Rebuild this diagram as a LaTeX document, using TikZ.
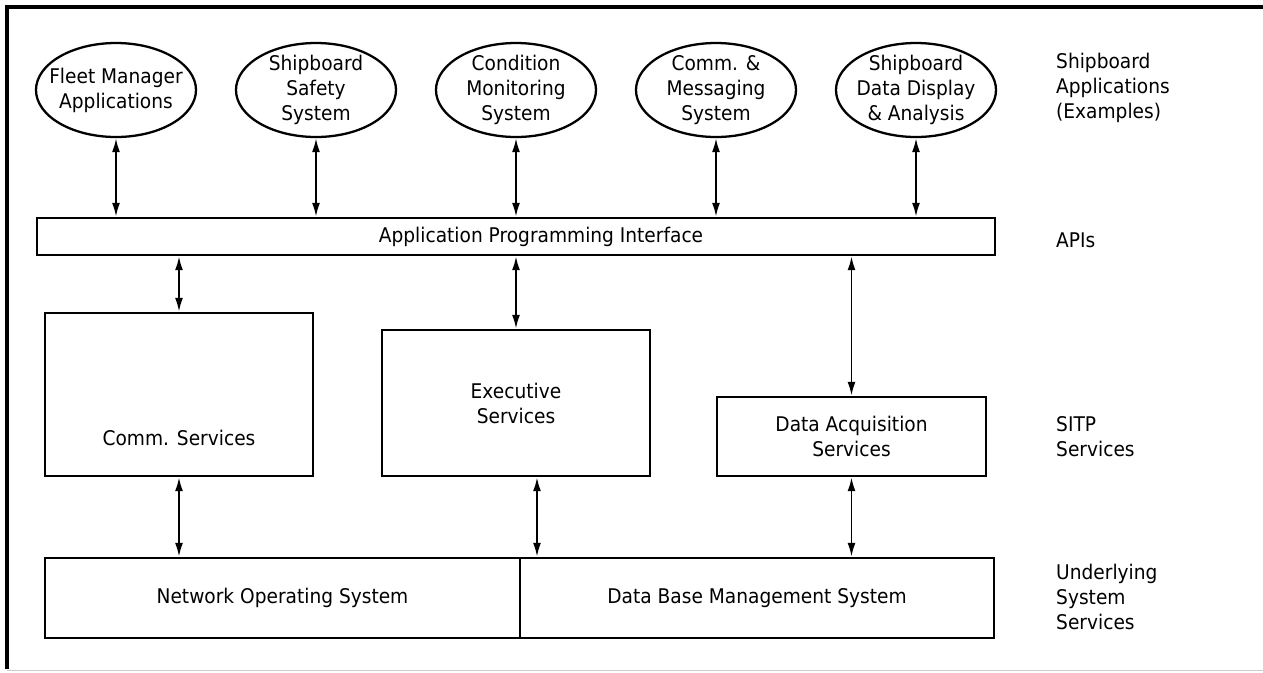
\documentclass[tikz,border=0pt]{standalone}
\usepackage{fontspec}
\setmainfont[FakeStretch=0.92]{DejaVu Sans}
\usepackage{tikz}
\usetikzlibrary{shapes,arrows,arrows.meta,calc}
\tikzstyle{app} = [ellipse, draw, line width=1.3pt, minimum width=3.2cm, minimum height=1.88cm, inner xsep=-0.25cm, inner ysep=-0.1cm, align=center, node distance=4cm]
\tikzstyle{blok} = [rectangle, draw, line width=1.4pt, align=center, inner sep=0pt]
\tikzstyle{lapis} = [anchor=west, align=left]
\tikzstyle{line} = [draw, line width=1.1pt, {Latex[length=0.28cm,width=0.16cm]}-{Latex[length=0.28cm,width=0.16cm]}]

\begin{document}
\begin{tikzpicture}[font=\fontsize{11.5}{14.2}\selectfont]
\useasboundingbox (0,0) rectangle (25.26,-13.44);
\draw[line width=2pt] (0.14,-13.38) -- (0.14,-0.14) -- (25.26,-0.14);
\draw[gray!40, line width=0.5pt] (0.14,-13.4) -- (25.26,-13.4);

\node [app] (fleet) at (2.32,-1.8) {Fleet Manager\\Applications};
\node [app, right of=fleet] (safety) {Shipboard\\Safety\\System};
\node [app, right of=safety] (monitor) {Condition\\Monitoring\\System};
\node [app, right of=monitor] (messaging) {Comm. \&\\Messaging\\System};
\node [app, right of=messaging] (display) {Shipboard\\Data Display\\\& Analysis};

\node [blok, minimum width=19.16cm, minimum height=0.74cm] (api) at (10.32,-4.73) {\hspace*{1cm}Application Programming Interface};

\node [blok, minimum width=5.36cm, minimum height=3.26cm] (comm) at (3.58,-7.89) {};
\node (commtext) at ([yshift=0.78cm]comm.south) {Comm. Services};
\node [blok, minimum width=5.36cm, minimum height=2.92cm] (exec) at (10.32,-8.06) {Executive\\Services};
\node [blok, minimum width=5.38cm, minimum height=1.58cm] (daq) at (17.03,-8.73) {Data Acquisition\\Services};

\node [blok, minimum width=9.5cm, minimum height=1.6cm] (nos) at (5.65,-11.96) {Network Operating System};
\node [blok, minimum width=9.48cm, minimum height=1.6cm] (dbms) at (15.14,-11.96) {Data Base Management System};

\node [lapis] (lapp) at (21.0,-1.76) {Shipboard\\Applications\\(Examples)};
\node [lapis] (lapi) at (21.0,-4.8) {APIs};
\node [lapis] (lsitp) at (21.0,-8.74) {SITP\\Services};
\node [lapis] (lunder) at (21.0,-11.94) {Underlying\\System\\Services};

\path[line] (fleet) -- (fleet |- api.north);
\path[line] (safety) -- (safety |- api.north);
\path[line] (monitor) -- (monitor |- api.north);
\path[line] (messaging) -- (messaging |- api.north);
\path[line] (display) -- (display |- api.north);

\path[line] (comm.north |- api.south) -- (comm.north);
\path[line] (exec.north |- api.south) -- (exec.north);
\path[line] (daq.north |- api.south) -- (daq.north);

\path[line] (comm.south) -- (comm.south |- nos.north);
\path[line] ([xshift=0.42cm]exec.south) -- ([xshift=0.42cm]exec.south |- dbms.north);
\path[line] (daq.south) -- (daq.south |- dbms.north);
\end{tikzpicture}
\end{document}
